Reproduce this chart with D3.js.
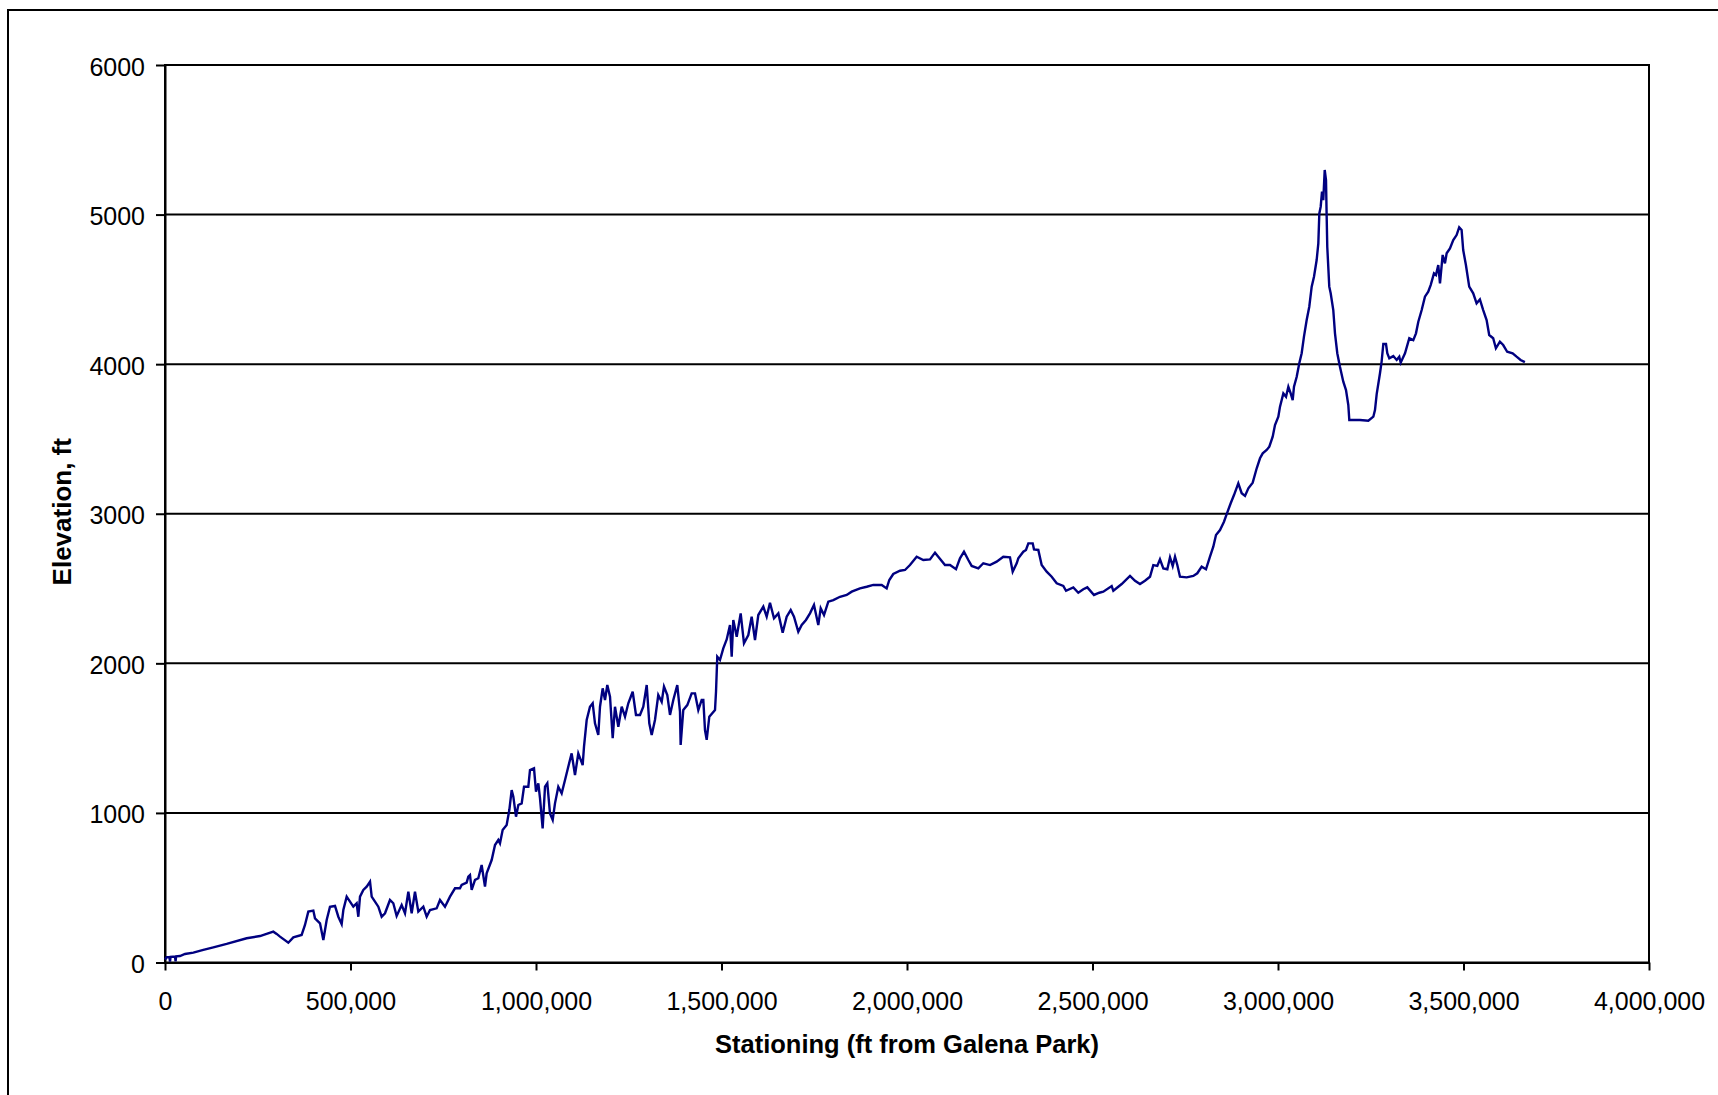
<!DOCTYPE html>
<html>
<head>
<meta charset="utf-8">
<script src="https://cdn.jsdelivr.net/npm/d3@7/dist/d3.min.js"></script>
<style>
  html, body { margin: 0; padding: 0; background: #ffffff; }
  svg { display: block; }
  text { font-family: Arial, "Liberation Sans", sans-serif; fill: #000; }
</style>
</head>
<body>
<svg id="chart" width="1718" height="1095"></svg>
<script>
// Pipeline profile: stationing (ft from Galena Park) vs ground elevation (ft)
const stationFt = [
  0, 4500, 12000, 13500, 15000, 27000, 28500, 30000, 40400, 53900, 76400, 103300, 130300, 166200,
  220100, 256000, 292000, 301000, 310000, 332400, 345900, 368300, 377300, 386300, 399800, 404300,
  417800, 426800, 435800, 444700, 458200, 467200, 476200, 480700, 489700, 507600, 516600, 521100,
  525600, 534600, 543600, 552600, 557100, 566000, 575000, 584000, 593000, 606400, 615400, 624400,
  637900, 646900, 655900, 664900, 673800, 682800, 696300, 705300, 714300, 732200, 741200, 754700,
  768200, 781700, 795100, 799600, 813100, 817600, 822100, 826600, 835600, 844500, 853500, 862500,
  867000, 880500, 889500, 898400, 902900, 910100, 920900, 928100, 934400, 938900, 946100, 952400,
  961400, 967700, 979300, 983800, 994600, 1000000, 1006300, 1010800, 1017900, 1024300, 1030500,
  1037700, 1045000, 1051200, 1060100, 1069200, 1078200, 1087000, 1096100, 1105100, 1114000,
  1125800, 1129400, 1136600, 1145500, 1152800, 1159000, 1167900, 1172500, 1179700, 1186000,
  1192200, 1199500, 1206700, 1212900, 1221900, 1231000, 1239900, 1248800, 1260600, 1269500,
  1280300, 1289200, 1298400, 1305400, 1311800, 1320700, 1329600, 1338800, 1345000, 1353900,
  1361200, 1370100, 1380800, 1388100, 1389900, 1397000, 1407800, 1419600, 1428600, 1437500,
  1446600, 1451000, 1455500, 1460100, 1467100, 1482500, 1485200, 1488600, 1495900, 1504800,
  1514000, 1522900, 1527500, 1531800, 1541000, 1551700, 1560600, 1572300, 1581300, 1590300,
  1599200, 1612700, 1621800, 1630700, 1641500, 1653200, 1664900, 1675700, 1686500, 1695400,
  1707000, 1716200, 1727700, 1738500, 1749300, 1760900, 1767400, 1776300, 1787900, 1801400,
  1819400, 1837500, 1851000, 1873300, 1891400, 1909200, 1931800, 1945200, 1952300, 1963000,
  1981100, 1994600, 2008000, 2026100, 2043900, 2062000, 2075500, 2084300, 2102400, 2115900,
  2132100, 2142800, 2153600, 2165300, 2174300, 2192200, 2205700, 2223700, 2241700, 2259600,
  2277600, 2284900, 2295700, 2300000, 2313500, 2320700, 2327100, 2338800, 2342300, 2353900,
  2363000, 2376500, 2390000, 2403500, 2421300, 2428600, 2448300, 2461700, 2475200, 2486000,
  2504000, 2518400, 2529100, 2551700, 2556200, 2578700, 2601100, 2614600, 2628000, 2641500,
  2655000, 2663900, 2674700, 2681900, 2690900, 2701700, 2708900, 2716200, 2722400, 2728600,
  2735800, 2753800, 2771700, 2782500, 2794300, 2805900, 2816700, 2825600, 2832900, 2843700,
  2854400, 2861700, 2872500, 2881400, 2893000, 2902100, 2911100, 2920100, 2931800, 2942600,
  2951500, 2958800, 2969500, 2976600, 2985700, 2991900, 3000900, 3005400, 3014400, 3021600,
  3027900, 3034200, 3039600, 3043100, 3050400, 3057400, 3063800, 3070000, 3077300, 3084300,
  3090800, 3097000, 3104200, 3108700, 3111400, 3115100, 3118600, 3122100, 3125900, 3129400,
  3131200, 3132800, 3138200, 3142000, 3149000, 3153600, 3159800, 3167000, 3176000, 3183300,
  3189500, 3192200, 3221000, 3243500, 3257000, 3261400, 3266000, 3274900, 3279300, 3283900,
  3291100, 3294600, 3300000, 3310800, 3319800, 3326900, 3330700, 3342300, 3353900, 3364600,
  3371900, 3378200, 3387300, 3396100, 3405000, 3411500, 3420400, 3425800, 3432000, 3436600,
  3443800, 3450000, 3454600, 3463500, 3472400, 3481400, 3488400, 3494900, 3499200, 3506500,
  3515400, 3526200, 3535300, 3544200, 3553100, 3562300, 3569300, 3580000, 3587300, 3598100,
  3607000, 3617800, 3632400, 3643100, 3653900, 3665500
];

const elevationFt = [
  20, 35, 36, 6, 38, 40, 8, 41, 43, 57, 66, 84, 101, 124,
  162, 177, 206, 191, 173, 132, 168, 184, 251, 340, 347, 295,
  262, 150, 284, 373, 378, 306, 257, 351, 440, 373, 396, 306,
  440, 485, 507, 540, 440, 407, 373, 306, 329, 418, 396, 311,
  384, 329, 473, 329, 473, 340, 373, 306, 351, 362, 418, 373,
  440, 496, 496, 518, 534, 574, 585, 485, 552, 563, 652, 507,
  596, 685, 785, 819, 797, 886, 919, 1019, 1153, 1109, 975, 1053,
  1064, 1175, 1175, 1287, 1298, 1142, 1198, 1097, 897, 1175, 1198,
  997, 953, 1064, 1175, 1131, 1220, 1309, 1398, 1253, 1398,
  1320, 1443, 1621, 1710, 1733, 1599, 1521, 1710, 1833, 1755,
  1855, 1777, 1499, 1710, 1576, 1710, 1643, 1733, 1810, 1655,
  1655, 1710, 1855, 1599, 1521, 1621, 1788, 1743, 1844, 1788,
  1655, 1755, 1855, 1677, 1454, 1688, 1721, 1799, 1799, 1688,
  1755, 1755, 1554, 1489, 1643, 1688, 1810, 2044, 2022, 2100,
  2160, 2256, 2044, 2290, 2178, 2334, 2134, 2189, 2312, 2156,
  2323, 2379, 2312, 2405, 2301, 2334, 2205, 2312, 2356, 2312,
  2211, 2256, 2290, 2334, 2390, 2256, 2368, 2323, 2412, 2423,
  2445, 2457, 2479, 2501, 2512, 2524, 2524, 2501, 2557, 2597,
  2619, 2624, 2657, 2713, 2691, 2695, 2740, 2713, 2657, 2657,
  2629, 2702, 2746, 2691, 2651, 2635, 2669, 2657, 2680, 2713,
  2709, 2613, 2669, 2702, 2746, 2758, 2802, 2802, 2762, 2758,
  2657, 2613, 2579, 2535, 2517, 2485, 2508, 2472, 2495, 2508,
  2457, 2472, 2479, 2517, 2485, 2530, 2584, 2552, 2530, 2552,
  2579, 2657, 2651, 2695, 2635, 2629, 2709, 2651, 2713, 2657,
  2579, 2575, 2584, 2602, 2646, 2629, 2713, 2780, 2858, 2891,
  2947, 2998, 3070, 3125, 3203, 3137, 3119, 3170, 3208, 3304,
  3371, 3404, 3426, 3448, 3515, 3593, 3649, 3716, 3805, 3782,
  3849, 3805, 3760, 3849, 3916, 4006, 4073, 4184, 4295, 4384,
  4518, 4585, 4696, 4808, 5008, 5053, 5153, 5097, 5298, 5231,
  4986, 4785, 4518, 4474, 4362, 4206, 4073, 3983, 3883, 3827,
  3727, 3627, 3627, 3622, 3649, 3693, 3800, 3939, 4017, 4135,
  4135, 4073, 4039, 4054, 4028, 4050, 4010, 4073, 4173, 4161,
  4206, 4284, 4362, 4451, 4484, 4529, 4607, 4596, 4663, 4540,
  4730, 4674, 4741, 4774, 4830, 4863, 4915, 4897, 4763, 4663,
  4518, 4474, 4407, 4433, 4362, 4295, 4195, 4173, 4106, 4150,
  4128, 4083, 4073, 4050, 4028, 4014
];

const xTicks = [0, 500000, 1000000, 1500000, 2000000, 2500000, 3000000, 3500000, 4000000];
const yTicks = [0, 1000, 2000, 3000, 4000, 5000, 6000];
const xTitle = "Stationing (ft from Galena Park)";
const yTitle = "Elevation, ft";

const svg = d3.select("#chart");
const W = 1718, H = 1095;
const plot = { left: 165, right: 1649, top: 65, bottom: 962.5 };

svg.append("rect").attr("width", W).attr("height", H).attr("fill", "#fff");

// Outer chart-area frame
svg.append("rect")
  .attr("x", 8).attr("y", 10)
  .attr("width", W + 20).attr("height", H + 20)
  .attr("fill", "none").attr("stroke", "#000").attr("stroke-width", 2);

const x = d3.scaleLinear().domain([0, 4000000]).range([plot.left, plot.right]);
const y = d3.scaleLinear().domain([0, 6000]).range([plot.bottom, plot.top]);

// Horizontal gridlines
svg.append("g")
  .selectAll("line")
  .data(yTicks.filter(d => d > 0))
  .join("line")
  .attr("x1", plot.left).attr("x2", plot.right)
  .attr("y1", d => y(d)).attr("y2", d => y(d))
  .attr("stroke", "#000").attr("stroke-width", 2);

// Plot frame
svg.append("rect")
  .attr("x", plot.left).attr("y", plot.top)
  .attr("width", plot.right - plot.left).attr("height", plot.bottom - plot.top)
  .attr("fill", "none").attr("stroke", "#000").attr("stroke-width", 2);

// Axes
const yAxis = svg.append("g")
  .attr("transform", `translate(${plot.left},0)`)
  .call(d3.axisLeft(y).tickValues(yTicks).tickFormat(d3.format("d")).tickSize(9).tickPadding(11).tickSizeOuter(0));
const xAxis = svg.append("g")
  .attr("transform", `translate(0,${plot.bottom})`)
  .call(d3.axisBottom(x).tickValues(xTicks).tickFormat(d3.format(",")).tickSize(8).tickPadding(22).tickSizeOuter(0));

[xAxis, yAxis].forEach(g => {
  g.select(".domain").attr("stroke", "#000").attr("stroke-width", 2);
  g.selectAll(".tick line").attr("stroke", "#000").attr("stroke-width", 2);
  g.selectAll(".tick text")
    .attr("fill", "#000")
    .style("font-family", 'Arial, "Liberation Sans", sans-serif')
    .style("font-size", "25px");
});
yAxis.selectAll(".tick text").attr("dy", "0.4em");

// Elevation profile
const profile = stationFt.map((s, i) => [s, elevationFt[i]]);
svg.append("path")
  .datum(profile)
  .attr("fill", "none")
  .attr("stroke", "#000080")
  .attr("stroke-width", 2.4)
  .attr("stroke-linejoin", "miter")
  .attr("d", d3.line().x(d => x(d[0])).y(d => y(d[1])));

// Axis titles
svg.append("text")
  .attr("x", (plot.left + plot.right) / 2)
  .attr("y", 1053)
  .attr("text-anchor", "middle")
  .style("font-size", "25.5px")
  .style("font-weight", "bold")
  .text(xTitle);

svg.append("text")
  .attr("transform", `translate(71,${(plot.top + plot.bottom) / 2 - 2}) rotate(-90)`)
  .attr("text-anchor", "middle")
  .style("font-size", "26px")
  .style("font-weight", "bold")
  .text(yTitle);
</script>
</body>
</html>
